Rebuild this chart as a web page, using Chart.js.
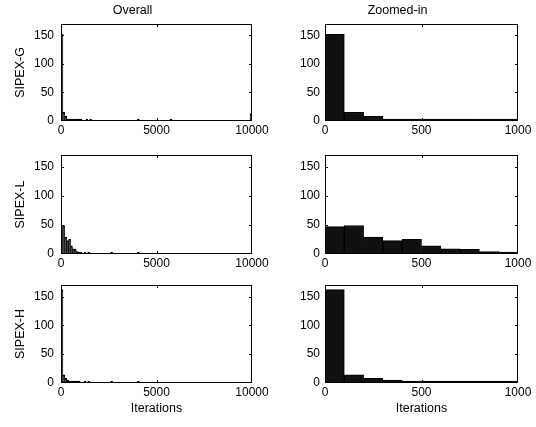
<!DOCTYPE html>
<html>
<head>
<meta charset="utf-8">
<script src="https://cdn.jsdelivr.net/npm/chart.js@4"></script>
<style>
  body { margin: 0; background: #fff; }
  #wrap { position: relative; width: 536px; height: 427px; }
  canvas { position: absolute; left: 0; top: 0; }
</style>
</head>
<body>
<div id="wrap">
  <canvas id="c1" width="536" height="427"></canvas>
  <canvas id="c2" width="536" height="427"></canvas>
  <canvas id="c3" width="536" height="427"></canvas>
  <canvas id="c4" width="536" height="427"></canvas>
  <canvas id="c5" width="536" height="427"></canvas>
  <canvas id="c6" width="536" height="427"></canvas>
</div>
<script>
// histogram counts, bins of 100 iterations
const gOverall = [
  152,15,8,1,1,1,1,1,1,1, 1,0,0,1,0,1,0,0,0,0, 0,0,0,0,0,0,0,0,0,0, 0,0,0,0,0,0,0,0,0,0,
  1,0,0,0,0,0,0,0,0,0, 0,0,0,0,0,0,0,1,0,0, 0,0,0,0,0,0,0,0,0,0, 0,0,0,0,0,0,0,0,0,0,
  0,0,0,0,0,0,0,0,0,0, 0,0,0,0,0,0,0,0,0,13
];
const lOverall = [
  47,49,29,23,25,14,9,8,4,2, 1,0,1,0,1,0,0,0,0,0, 0,0,0,0,0,0,1,0,0,0, 0,0,0,0,0,0,0,0,0,0,
  1,0,0,0,0,0,0,0,0,0, 0,0,0,0,0,0,0,0,0,0, 0,0,0,0,0,0,0,0,0,0, 0,0,0,0,0,0,0,0,0,0,
  0,0,0,0,0,0,0,0,0,0, 0,0,0,0,0,0,0,0,0,0
];
const hOverall = [
  162,14,8,5,1,1,1,1,1,1, 0,0,1,0,1,0,0,0,0,0, 0,0,0,0,0,0,1,0,0,0, 0,0,0,0,0,0,0,0,0,0,
  1,0,0,0,0,0,0,0,0,0, 0,0,0,0,0,0,0,0,0,0, 0,0,0,0,0,0,0,0,0,0, 0,0,0,0,0,0,0,0,0,0,
  0,0,0,0,0,0,0,0,0,0, 0,0,0,0,0,0,0,0,0,0
];
const gZoom = [152,15,8,1,1,1,1,1,1,1];
const lZoom = [47,49,29,23,25,14,9,8,4,2];
const hZoom = [162,14,8,5,1,1,1,1,1,1];

const binWidth = 100;
const yTicks = [0, 50, 100, 150];
const xTicksOverall = [0, 5000, 10000];
const xTicksZoom = [0, 500, 1000];

const FONT = "'Liberation Sans', Arial, sans-serif";
const W = 536, H = 427;

// MATLAB style box with inward ticks
const boxPlugin = {
  id: 'box',
  afterDatasetsDraw(chart) {
    const { ctx, chartArea: a, scales: { x, y } } = chart;
    ctx.save();
    ctx.strokeStyle = '#000';
    ctx.lineWidth = 1;
    ctx.strokeRect(a.left + 0.5, a.top + 0.5, a.right - a.left - 1, a.bottom - a.top - 1);
    ctx.beginPath();
    x.ticks.forEach(t => {
      const px = Math.round(x.getPixelForValue(t.value)) + 0.5;
      if (px < a.left + 2 || px > a.right - 2) return;
      ctx.moveTo(px, a.bottom); ctx.lineTo(px, a.bottom - 3);
      ctx.moveTo(px, a.top); ctx.lineTo(px, a.top + 3);
    });
    y.ticks.forEach(t => {
      const py = Math.round(y.getPixelForValue(t.value)) + 0.5;
      if (py < a.top + 2 || py > a.bottom - 2) return;
      ctx.moveTo(a.left, py); ctx.lineTo(a.left + 3, py);
      ctx.moveTo(a.right, py); ctx.lineTo(a.right - 3, py);
    });
    ctx.stroke();
    ctx.restore();
  }
};

function makePlot(id, box, counts, xMax, xTicks, yLabel, title, xLabel, yPad) {
  const yW = 48;
  const xH = xLabel ? 33 : 20;
  // empty bins are left out so only filled bins get a visible sliver
  const points = counts.map((c, i) => ({ x: i * binWidth + binWidth / 2, y: c > 0 ? c : null }));
  const titleH = 24;
  new Chart(document.getElementById(id), {
    type: 'bar',
    data: {
      datasets: [{
        data: points,
        backgroundColor: '#111',
        borderColor: '#000',
        borderWidth: 1,
        barPercentage: 1,
        categoryPercentage: 1,
        minBarLength: 2
      }]
    },
    options: {
      responsive: false,
      animation: false,
      layout: {
        padding: {
          left: box.left - yW,
          right: W - box.right,
          top: title ? box.top - titleH : box.top,
          bottom: H - box.bottom - xH
        }
      },
      plugins: {
        legend: { display: false },
        tooltip: { enabled: false },
        title: {
          display: !!title,
          text: title,
          color: '#000',
          font: { family: FONT, size: 12.5, weight: 'normal', lineHeight: 1.2 },
          padding: { top: 3, bottom: 6 }
        }
      },
      scales: {
        x: {
          type: 'linear',
          min: 0,
          max: xMax,
          offset: false,
          grid: { display: false, drawTicks: false },
          border: { display: false },
          afterBuildTicks: s => { s.ticks = xTicks.map(v => ({ value: v })); },
          afterFit: s => { s.height = xH; },
          ticks: {
            color: '#000',
            autoSkip: false,
            maxRotation: 0,
            padding: 2,
            font: { family: FONT, size: 12 },
            callback: v => String(v)
          },
          title: {
            display: !!xLabel,
            text: xLabel,
            color: '#000',
            font: { family: FONT, size: 12.5, lineHeight: 1.2 },
            padding: 0
          }
        },
        y: {
          min: 0,
          max: 170,
          grid: { display: false, drawTicks: false },
          border: { display: false },
          afterBuildTicks: s => { s.ticks = yTicks.map(v => ({ value: v })); },
          afterFit: s => { s.width = yW; },
          ticks: {
            color: '#000',
            padding: yPad,
            font: { family: FONT, size: 12 }
          },
          title: {
            display: !!yLabel,
            text: yLabel,
            color: '#000',
            font: { family: FONT, size: 12.5, lineHeight: 1.2 },
            padding: 0
          }
        }
      }
    },
    plugins: [boxPlugin]
  });
}

const leftCol = { left: 61, right: 252 };
const rightCol = { left: 325, right: 518 };
const rows = [{ top: 24, bottom: 121 }, { top: 155, bottom: 254 }, { top: 285, bottom: 383 }];

makePlot('c1', { ...leftCol, ...rows[0] }, gOverall, 10000, xTicksOverall, 'SIPEX-G', 'Overall', '', 7);
makePlot('c2', { ...rightCol, ...rows[0] }, gZoom, 1000, xTicksZoom, '', 'Zoomed-in', '', 5);
makePlot('c3', { ...leftCol, ...rows[1] }, lOverall, 10000, xTicksOverall, 'SIPEX-L', '', '', 7);
makePlot('c4', { ...rightCol, ...rows[1] }, lZoom, 1000, xTicksZoom, '', '', '', 5);
makePlot('c5', { ...leftCol, ...rows[2] }, hOverall, 10000, xTicksOverall, 'SIPEX-H', '', 'Iterations', 7);
makePlot('c6', { ...rightCol, ...rows[2] }, hZoom, 1000, xTicksZoom, '', '', 'Iterations', 5);
</script>
</body>
</html>
